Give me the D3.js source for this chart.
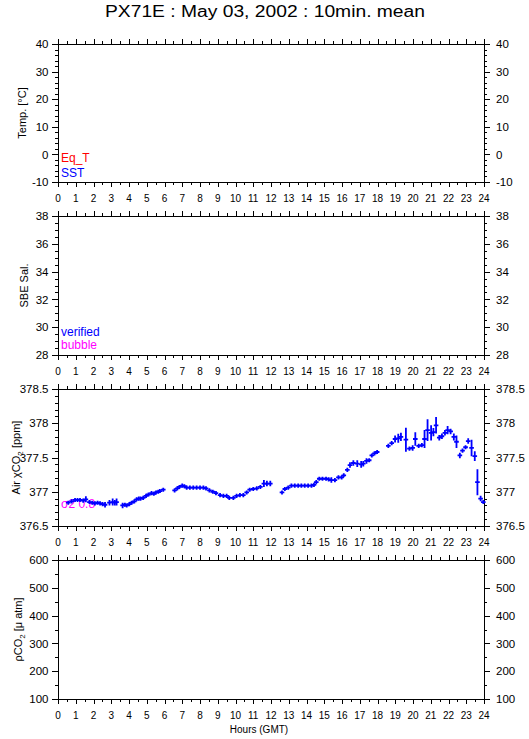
<!DOCTYPE html>
<html>
<head>
<meta charset="utf-8">
<style>
  body { margin: 0; background: #fff; }
  svg { display: block; }
  text { font-family: "Liberation Sans", Arial, sans-serif; fill: #000; }
  .narrow { font-family: "Liberation Sans Narrow", "Arial Narrow", "Liberation Sans", sans-serif; }
</style>
</head>
<body>
<svg id="chart" width="529" height="739"></svg>

<script src="https://cdn.jsdelivr.net/npm/d3@7"></script>
<script>
  // 10 min mean air xCO2, PX71E, May 03 2002
  const hours = [
    0.58, 0.77, 0.96, 1.10, 1.24, 1.42, 1.57, 1.77, 1.93, 2.08, 2.23, 2.37, 2.51, 2.65, 2.90, 3.08, 3.20, 3.30,
    3.64, 3.77, 3.87, 4.02, 4.15, 4.30, 4.43, 4.55, 4.65, 4.80, 4.96, 5.10, 5.27, 5.40, 5.52, 5.65, 5.74, 5.93,
    6.57, 6.72, 6.84, 7.00, 7.12, 7.25, 7.43, 7.62, 7.81, 8.00, 8.19, 8.34, 8.53, 8.72, 8.90, 9.13, 9.32, 9.50,
    9.65, 9.88, 10.06, 10.25, 10.44, 10.63, 10.80, 11.00, 11.20, 11.40, 11.60, 11.77, 11.96,
    12.62, 12.78, 12.97, 13.15, 13.34, 13.53, 13.71, 13.90, 14.09, 14.28, 14.42, 14.55, 14.72, 14.90, 15.10,
    15.25, 15.40, 15.60, 15.80, 15.98, 16.10, 16.30, 16.45, 16.64, 16.86, 17.08, 17.20, 17.38, 17.53, 17.68,
    17.83, 17.98,
    18.61, 18.80, 18.99, 19.17, 19.32, 19.60, 19.80, 19.98, 20.13, 20.32, 20.50, 20.65, 20.82, 21.02, 21.15,
    21.30, 21.48, 21.63, 21.80, 21.95, 22.12, 22.30, 22.45, 22.64, 22.79, 22.96, 23.11, 23.30, 23.48, 23.63,
    23.81, 23.96
  ];
  const xco2 = [
    376.84, 376.86, 376.88, 376.88, 376.88, 376.87, 376.89, 376.85, 376.84, 376.83, 376.84, 376.83, 376.82, 376.81, 376.84, 376.85, 376.84, 376.85,
    376.80, 376.81, 376.80, 376.82, 376.84, 376.86, 376.89, 376.90, 376.90, 376.91, 376.94, 376.96, 376.98, 376.97, 376.99, 377.00, 377.01, 377.03,
    377.02, 377.05, 377.07, 377.09, 377.08, 377.06, 377.06, 377.06, 377.06, 377.06, 377.06, 377.05, 377.02, 377.00, 376.98, 376.95, 376.94, 376.94,
    376.91, 376.91, 376.94, 376.95, 376.95, 376.99, 377.03, 377.04, 377.05, 377.07, 377.12, 377.12, 377.12,
    376.99, 377.04, 377.06, 377.09, 377.09, 377.09, 377.09, 377.09, 377.09, 377.09, 377.10, 377.14, 377.19, 377.19, 377.19,
    377.18, 377.17, 377.17, 377.21, 377.21, 377.24, 377.32, 377.39, 377.42, 377.41, 377.40, 377.41, 377.45, 377.46, 377.53,
    377.56, 377.58,
    377.67, 377.71, 377.77, 377.78, 377.80, 377.76, 377.63, 377.64, 377.77, 377.67, 377.68, 377.77, 377.90, 377.86, 377.87,
    377.97, 377.79, 377.81, 377.86, 377.90, 377.88, 377.80, 377.73, 377.53, 377.60, 377.65, 377.74, 377.64, 377.52, 377.14,
    376.90, 376.85
  ];
  const xco2Sd = [
    0.03, 0.03, 0.03, 0.03, 0.03, 0.03, 0.045, 0.03, 0.03, 0.03, 0.03, 0.03, 0.03, 0.04, 0.04, 0.05, 0.04, 0.05,
    0.04, 0.03, 0.03, 0.03, 0.03, 0.03, 0.03, 0.03, 0.03, 0.03, 0.03, 0.03, 0.03, 0.03, 0.03, 0.03, 0.03, 0.03,
    0.03, 0.03, 0.03, 0.03, 0.03, 0.03, 0.03, 0.03, 0.03, 0.03, 0.03, 0.03, 0.03, 0.03, 0.03, 0.03, 0.03, 0.03,
    0.03, 0.03, 0.03, 0.03, 0.03, 0.03, 0.03, 0.03, 0.03, 0.03, 0.05, 0.04, 0.04,
    0.03, 0.03, 0.03, 0.03, 0.03, 0.03, 0.03, 0.03, 0.03, 0.03, 0.03, 0.03, 0.03, 0.03, 0.03,
    0.03, 0.04, 0.03, 0.03, 0.03, 0.03, 0.03, 0.04, 0.04, 0.05, 0.05, 0.04, 0.04, 0.03, 0.03,
    0.03, 0.03,
    0.03, 0.03, 0.05, 0.065, 0.06, 0.175, 0.03, 0.04, 0.10, 0.03, 0.03, 0.13, 0.16, 0.11, 0.06,
    0.12, 0.04, 0.04, 0.04, 0.06, 0.04, 0.05, 0.09, 0.04, 0.03, 0.03, 0.04, 0.12, 0.07, 0.19,
    0.04, 0.03
  ];

  const hourTicks = d3.range(0, 25);
  const tempTicks = [-10, 0, 10, 20, 30, 40];
  const salTicks = [28, 30, 32, 34, 36, 38];
  const co2Ticks = [376.5, 377, 377.5, 378, 378.5];
  const pco2Ticks = [100, 200, 300, 400, 500, 600];

  const svg = d3.select("#chart");
  const x = d3.scaleLinear().domain([0, 24]).range([58, 484]);

  const panels = [
    { top: 44, bottom: 182, ticks: tempTicks, minor: 2, titleX: 26,
      title: [{ t: "Temp. [°C]" }],
      legend: [{ t: "Eq_T", c: "#ff0000", y: 162 }, { t: "SST", c: "#0000ff", y: 176.5 }] },
    { top: 216, bottom: 355, ticks: salTicks, minor: 0.5, titleX: 28,
      title: [{ t: "SBE Sal." }],
      legend: [{ t: "verified", c: "#0000ff", y: 336 }, { t: "bubble", c: "#ff00ff", y: 349 }] },
    { top: 389, bottom: 526, ticks: co2Ticks, minor: 0.1, titleX: 20,
      title: [{ t: "Air " }, { t: "χ" }, { t: "CO" }, { t: "2", sub: true }, { t: " [ppm]" }],
      legend: [{ t: "σ2 0.8", c: "#ff00ff", y: 508 }] },
    { top: 560, bottom: 699, ticks: pco2Ticks, minor: 50, titleX: 22,
      title: [{ t: "ρ" }, { t: "CO" }, { t: "2", sub: true }, { t: " [μ atm]" }],
      legend: [] }
  ];

  svg.append("text")
    .attr("x", 265)
    .attr("y", 17)
    .attr("text-anchor", "middle")
    .attr("font-size", 16)
    .attr("textLength", 320)
    .attr("lengthAdjust", "spacingAndGlyphs")
    .text("PX71E : May 03, 2002 : 10min. mean");

  const halfHours = d3.range(0.5, 24, 1);

  panels.forEach(p => {
    const lo = p.ticks[0], hi = p.ticks[p.ticks.length - 1];
    const y = d3.scaleLinear().domain([lo, hi]).range([p.bottom, p.top]);
    p.y = y;
    const nMinor = Math.round((hi - lo) / p.minor);
    const minors = d3.range(nMinor + 1).map(i => lo + i * p.minor);
    const g = svg.append("g").attr("shape-rendering", "crispEdges");

    const fmt = d => String(d);
    const strip = s => s.select(".domain").remove();

    // y axes, left and right
    g.append("g").attr("transform", `translate(58,0)`)
      .call(d3.axisLeft(y).tickValues(minors).tickSize(3).tickFormat("")).call(strip);
    g.append("g").attr("transform", `translate(58,0)`)
      .call(d3.axisLeft(y).tickValues(p.ticks).tickSize(6).tickPadding(3.5).tickFormat(fmt)).call(strip)
      .selectAll("text").attr("font-size", 11.5).attr("font-family", null);
    g.append("g").attr("transform", `translate(484,0)`)
      .call(d3.axisRight(y).tickValues(minors).tickSize(3).tickFormat("")).call(strip);
    g.append("g").attr("transform", `translate(484,0)`)
      .call(d3.axisRight(y).tickValues(p.ticks).tickSize(6).tickPadding(6).tickFormat(fmt)).call(strip)
      .selectAll("text").attr("font-size", 11.5).attr("font-family", null);

    // x axes, top and bottom
    g.append("g").attr("transform", `translate(0,${p.top})`)
      .call(d3.axisTop(x).tickValues(halfHours).tickSize(3).tickFormat("")).call(strip);
    g.append("g").attr("transform", `translate(0,${p.top})`)
      .call(d3.axisTop(x).tickValues(hourTicks).tickSize(5).tickFormat("")).call(strip);
    g.append("g").attr("transform", `translate(0,${p.bottom})`)
      .call(d3.axisBottom(x).tickValues(halfHours).tickSize(3).tickFormat("")).call(strip);
    g.append("g").attr("transform", `translate(0,${p.bottom})`)
      .call(d3.axisBottom(x).tickValues(hourTicks).tickSize(5).tickFormat("")).call(strip);

    g.selectAll(".tick line").attr("stroke", "#000");

    g.append("rect")
      .attr("x", 58).attr("y", p.top)
      .attr("width", 426).attr("height", p.bottom - p.top)
      .attr("fill", "none").attr("stroke", "#000");

    // hour labels under each panel
    svg.append("g").selectAll("text")
      .data(hourTicks)
      .join("text")
      .attr("class", "narrow")
      .attr("x", d => x(d))
      .attr("y", p.bottom + 20)
      .attr("text-anchor", "middle")
      .attr("font-size", 10)
      .text(d => d);

    // y title
    const tt = svg.append("text")
      .attr("transform", `translate(${p.titleX},${(p.top + p.bottom) / 2}) rotate(-90)`)
      .attr("text-anchor", "middle")
      .attr("font-size", 11);
    p.title.forEach((part, i) => {
      const s = tt.append("tspan").text(part.t);
      if (part.sub) s.attr("font-size", 8).attr("dy", 2.5);
      else if (i > 0 && p.title[i - 1].sub) s.attr("dy", -2.5);
    });

    // legend
    svg.append("g").selectAll("text")
      .data(p.legend)
      .join("text")
      .attr("x", 61)
      .attr("y", d => d.y)
      .attr("font-size", 12)
      .style("fill", d => d.c)
      .text(d => d.t);
  });

  // xCO2 crosses: horizontal bar = averaging window, vertical bar = +-sd
  const yc = panels[2].y;
  svg.append("g")
    .attr("stroke", "#0000ff")
    .attr("stroke-width", 1.8)
    .attr("fill", "none")
    .selectAll("path")
    .data(hours.map((h, i) => ({ h, v: xco2[i], sd: xco2Sd[i] })))
    .join("path")
    .attr("d", d =>
      `M${x(d.h - 0.13)},${yc(d.v)}H${x(d.h + 0.13)}` +
      `M${x(d.h)},${yc(d.v - d.sd)}V${yc(d.v + d.sd)}`);

  svg.append("text")
    .attr("class", "narrow")
    .attr("x", 259)
    .attr("y", 733)
    .attr("text-anchor", "middle")
    .attr("font-size", 10)
    .text("Hours (GMT)");
</script>
</body>
</html>
